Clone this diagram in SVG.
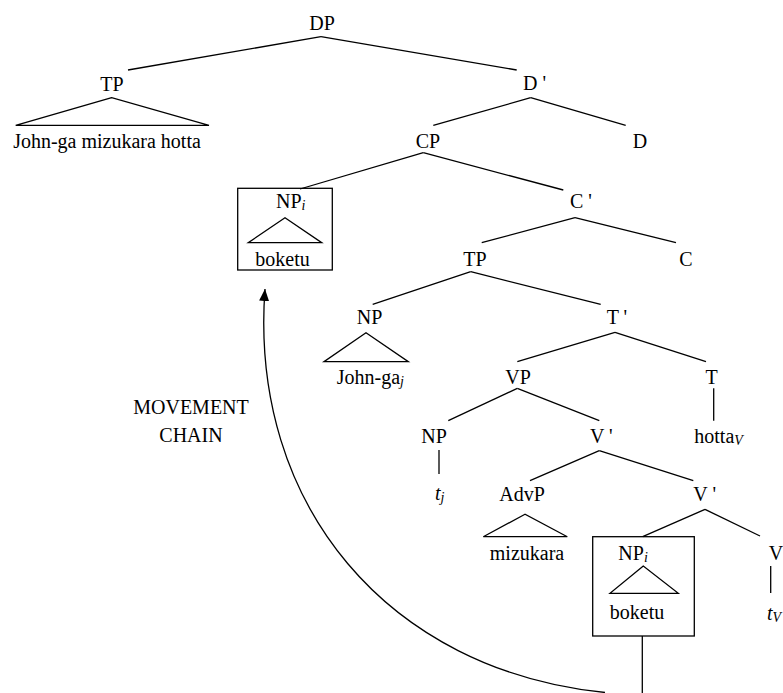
<svg xmlns="http://www.w3.org/2000/svg" width="783" height="693" viewBox="0 0 783 693">
<style>
text{font-family:"Liberation Serif","Times New Roman",serif;font-size:20px;fill:#000}
.m{text-anchor:middle}
.sub{font-style:italic;font-size:14px}
.it{font-style:italic}
line,polyline,rect,path{stroke:#000;stroke-width:1.3;fill:none}
</style>
<defs>
<marker id="ah" markerUnits="userSpaceOnUse" markerWidth="12" markerHeight="12" viewBox="0 0 12 10" refX="12" refY="5" orient="auto">
<path d="M0,0 L12,5 L0,10 Z" style="fill:#000;stroke:none"/>
</marker>
</defs>
<rect width="783" height="693" style="fill:#fff;stroke:none"/>
<g id="connectors">
<line x1="321" y1="36.7" x2="128" y2="70"/>
<line x1="321" y1="36.7" x2="516.7" y2="70"/>
<line x1="530.7" y1="97.7" x2="433.3" y2="125.3"/>
<line x1="530.7" y1="97.7" x2="625.7" y2="125.3"/>
<line x1="423.3" y1="152.7" x2="300" y2="189"/>
<line x1="423.3" y1="152.7" x2="563.3" y2="190"/>
<line x1="575" y1="217.7" x2="481.7" y2="242.7"/>
<line x1="575" y1="217.7" x2="676" y2="242.7"/>
<line x1="470.7" y1="271.7" x2="372.7" y2="304.3"/>
<line x1="470.7" y1="271.7" x2="600.7" y2="304.3"/>
<line x1="615" y1="332.3" x2="517.3" y2="361.7"/>
<line x1="615" y1="332.3" x2="706" y2="361.7"/>
<line x1="713.7" y1="388.3" x2="713.7" y2="420.7"/>
<line x1="517.3" y1="388.3" x2="448.3" y2="420.7"/>
<line x1="517.3" y1="388.3" x2="599.3" y2="420.7"/>
<line x1="439" y1="450" x2="439" y2="474"/>
<line x1="599.3" y1="450.7" x2="530" y2="480.7"/>
<line x1="599.3" y1="450.7" x2="693.3" y2="480.7"/>
<line x1="705" y1="509.3" x2="642.7" y2="536.7"/>
<line x1="705" y1="509.3" x2="760" y2="536"/>
<line x1="770.7" y1="566" x2="770.7" y2="593"/>
<line x1="642.3" y1="636" x2="642.3" y2="693"/>
<path d="M605,692.5 C388,670.5 249,505 265,289" marker-end="url(#ah)"/>
</g>
<g id="DP"><text class="m" x="322" y="30">DP</text></g>
<g id="TP-top">
<text class="m" x="112" y="90.5">TP</text>
<polygon points="111.7,97.7 15.7,125.3 209,125.3" style="fill:none;stroke:#000;stroke-width:1.3"/>
<text class="m" x="107" y="147.5">John-ga mizukara hotta</text>
</g>
<g id="Dbar"><text x="523" y="90">D '</text></g>
<g id="CP"><text class="m" x="428" y="147.5">CP</text></g>
<g id="D"><text class="m" x="640" y="147.5">D</text></g>
<g id="NPi-moved">
<rect x="237.7" y="188.3" width="94.6" height="81.7"/>
<text x="276" y="208">NP<tspan class="sub" dy="2">i</tspan></text>
<polygon points="285,217.7 248.3,242.7 321.7,242.7" style="fill:none;stroke:#000;stroke-width:1.3"/>
<text class="m" x="282.5" y="265.5">boketu</text>
</g>
<g id="Cbar"><text x="570" y="208">C '</text></g>
<g id="C"><text class="m" x="686" y="265.5">C</text></g>
<g id="TP"><text class="m" x="475" y="265.5">TP</text></g>
<g id="NP-subj">
<text class="m" x="369.5" y="324">NP</text>
<polygon points="366,332.7 324,361.7 408.3,361.7" style="fill:none;stroke:#000;stroke-width:1.3"/>
<text x="336.7" y="384">John-ga<tspan class="sub" dy="2">j</tspan></text>
</g>
<g id="Tbar"><text x="606.7" y="324">T '</text></g>
<g id="VP"><text class="m" x="518" y="384">VP</text></g>
<g id="T">
<text class="m" x="711.5" y="384">T</text>
<text x="694.3" y="443">hotta<tspan class="sub" dy="2">V</tspan></text>
</g>
<g id="NP-trace">
<text class="m" x="434" y="443">NP</text>
<text x="435" y="499.5"><tspan class="it">t</tspan><tspan class="sub" dy="2">j</tspan></text>
</g>
<g id="Vbar1"><text x="590" y="443">V '</text></g>
<g id="AdvP">
<text x="499.3" y="500.5">AdvP</text>
<polygon points="525,514.3 483.3,536.7 567.3,536.7" style="fill:none;stroke:#000;stroke-width:1.3"/>
<text class="m" x="527" y="560">mizukara</text>
</g>
<g id="Vbar2"><text x="693.3" y="500.5">V '</text></g>
<g id="NPi-base">
<rect x="592.7" y="536.7" width="101.6" height="99.3"/>
<text x="618.3" y="560">NP<tspan class="sub" dy="2">i</tspan></text>
<polygon points="643.3,566 610,593.3 678.3,593.3" style="fill:none;stroke:#000;stroke-width:1.3"/>
<text class="m" x="637" y="619">boketu</text>
</g>
<g id="V">
<text class="m" x="776" y="560">V</text>
<text x="767" y="620"><tspan class="it">t</tspan><tspan class="sub" dy="2">V</tspan></text>
</g>
<g id="chain-label">
<text class="m" x="191" y="414">MOVEMENT</text>
<text class="m" x="191" y="442">CHAIN</text>
</g>
</svg>
